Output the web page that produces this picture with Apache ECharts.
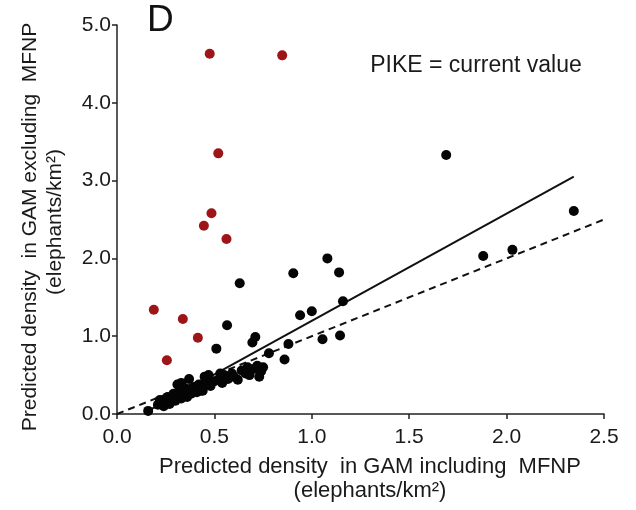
<!DOCTYPE html>
<html>
<head>
<meta charset="utf-8">
<script src="https://cdn.jsdelivr.net/npm/echarts@6/dist/echarts.min.js"></script>
<style>
html,body{margin:0;padding:0;background:#fff;}
#chart{width:636px;height:510px;}
</style>
</head>
<body>
<div id="chart"></div>
<script>
// Red points (PIKE = current value outliers)
var redPoints = [
  [0.476, 4.63], [0.848, 4.61], [0.52, 3.35], [0.485, 2.58], [0.446, 2.42],
  [0.562, 2.25], [0.189, 1.34], [0.338, 1.22], [0.415, 0.98], [0.256, 0.69]
];
// Black points
var blackPoints = [
  [1.69, 3.33], [2.345, 2.61], [1.88, 2.03], [2.03, 2.11], [1.08, 2.0],
  [1.14, 1.82], [0.905, 1.81], [0.63, 1.68], [1.16, 1.45], [1.0, 1.32],
  [0.94, 1.27], [1.055, 0.96], [1.145, 1.01], [0.565, 1.14], [0.51, 0.84],
  [0.71, 0.99], [0.695, 0.92], [0.88, 0.90], [0.86, 0.70], [0.78, 0.78],
  [0.72, 0.62], [0.74, 0.55], [0.70, 0.58], [0.67, 0.60], [0.66, 0.52],
  [0.68, 0.50], [0.73, 0.48], [0.75, 0.60], [0.64, 0.56], [0.60, 0.48],
  [0.62, 0.44], [0.55, 0.50], [0.53, 0.52], [0.50, 0.42], [0.47, 0.50],
  [0.45, 0.48], [0.43, 0.30], [0.40, 0.35], [0.37, 0.45], [0.33, 0.40],
  [0.31, 0.38], [0.16, 0.04], [0.21, 0.12], [0.22, 0.18], [0.24, 0.10],
  [0.25, 0.15], [0.26, 0.22], [0.27, 0.13], [0.28, 0.20], [0.29, 0.26],
  [0.30, 0.17], [0.31, 0.24], [0.32, 0.30], [0.33, 0.20], [0.34, 0.27],
  [0.35, 0.33], [0.36, 0.22], [0.37, 0.30], [0.38, 0.26], [0.39, 0.34],
  [0.41, 0.28], [0.42, 0.38], [0.44, 0.30], [0.46, 0.40], [0.48, 0.36],
  [0.52, 0.44], [0.54, 0.40], [0.57, 0.45], [0.59, 0.52]
];
// Fitted regression line (solid) and 1:1 line (dashed)
var fitLine = [[0.16, 0.04], [2.345, 3.05]];
var oneToOneLine = [[0, 0], [2.5, 2.5]];
var xTicks = [0, 0.5, 1.0, 1.5, 2.0, 2.5];
var yTicks = [0, 1, 2, 3, 4, 5];

var FONT = '"Liberation Sans", Arial, sans-serif';
var TXT = '#1a1a1a';
var chart = echarts.init(document.getElementById('chart'), null, {renderer: 'canvas'});
chart.setOption({
  backgroundColor: '#fff',
  animation: false,
  grid: {left: 117, right: 32, top: 25, bottom: 96},
  xAxis: {
    type: 'value', min: xTicks[0], max: xTicks[xTicks.length - 1], interval: 0.5,
    axisLine: {lineStyle: {color: '#222', width: 1.5}},
    axisTick: {show: true, length: 5, inside: false, lineStyle: {color: '#222', width: 1.5}},
    splitLine: {show: false},
    axisLabel: {margin: 13, fontSize: 21, fontFamily: FONT, color: TXT,
      formatter: function (v) { return v.toFixed(1); }}
  },
  yAxis: {
    type: 'value', min: yTicks[0], max: yTicks[yTicks.length - 1], interval: 1,
    axisLine: {lineStyle: {color: '#222', width: 1.5}},
    axisTick: {show: true, length: 5, inside: false, lineStyle: {color: '#222', width: 1.5}},
    splitLine: {show: false},
    axisLabel: {margin: 6, fontSize: 21, fontFamily: FONT, color: TXT,
      formatter: function (v) { return v.toFixed(1); }}
  },
  series: [
    {type: 'line', data: oneToOneLine, symbol: 'none', z: 1,
     lineStyle: {color: '#111', width: 2, type: [7, 5]}},
    {type: 'line', data: fitLine, symbol: 'none', z: 1,
     lineStyle: {color: '#111', width: 2, type: 'solid'}},
    {type: 'scatter', data: blackPoints, symbolSize: 10, z: 3,
     itemStyle: {color: '#050505', opacity: 1}},
    {type: 'scatter', data: redPoints, symbolSize: 10, z: 3,
     itemStyle: {color: '#9e1519', opacity: 1}}
  ],
  graphic: [
    {type: 'text', x: 147, y: 2, style: {text: 'D', font: '37px ' + FONT, fill: '#111'}},
    {type: 'text', x: 476, y: 66, style: {text: 'PIKE = current value', font: '23px ' + FONT, fill: TXT, textAlign: 'center', textVerticalAlign: 'middle'}},
    {type: 'text', x: 370, y: 467, style: {text: 'Predicted density  in GAM including  MFNP', font: '22px ' + FONT, fill: TXT, textAlign: 'center', textVerticalAlign: 'middle'}},
    {type: 'text', x: 370, y: 491, style: {text: '(elephants/km²)', font: '22px ' + FONT, fill: TXT, textAlign: 'center', textVerticalAlign: 'middle'}},
    {type: 'text', x: 30, y: 227, rotation: Math.PI / 2, style: {text: 'Predicted density  in GAM excluding  MFNP', font: '21px ' + FONT, fill: TXT, textAlign: 'center', textVerticalAlign: 'middle'}},
    {type: 'text', x: 55, y: 222, rotation: Math.PI / 2, style: {text: '(elephants/km²)', font: '21px ' + FONT, fill: TXT, textAlign: 'center', textVerticalAlign: 'middle'}}
  ]
});
</script>
</body>
</html>
